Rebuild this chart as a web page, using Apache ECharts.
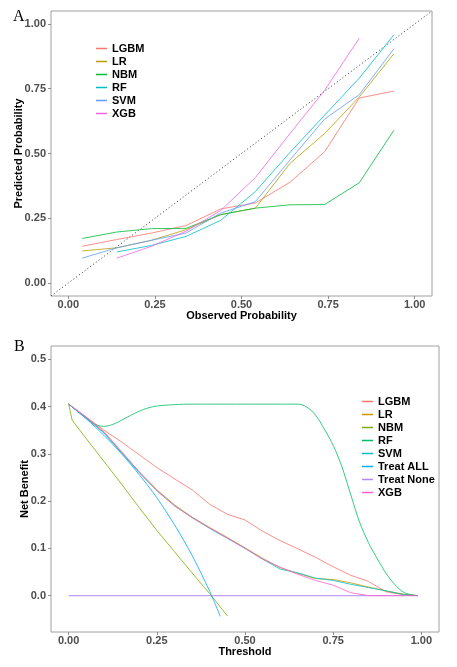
<!DOCTYPE html>
<html>
<head>
<meta charset="utf-8">
<script src="https://cdn.jsdelivr.net/npm/echarts@6.0.0/dist/echarts.min.js"></script>
<style>
  html, body { margin: 0; padding: 0; background: #fff; }
  #chartA { position: absolute; left: 0; top: 0; width: 457px; height: 330px; }
  #chartB { position: absolute; left: 0; top: 330px; width: 457px; height: 337px; }
</style>
</head>
<body>
<div id="chartA"></div>
<div id="chartB"></div>
<script>
// ---- panel A: calibration ----
const calX = [0.04, 0.14, 0.24, 0.34, 0.44, 0.54, 0.64, 0.74, 0.84, 0.94];
const calLGBM = [0.142, 0.168, 0.193, 0.222, 0.286, 0.309, 0.389, 0.507, 0.714, 0.741];
const calLR = [0.124, 0.136, 0.165, 0.206, 0.264, 0.289, 0.462, 0.577, 0.718, 0.885];
const calNBM = [0.172, 0.197, 0.21, 0.211, 0.264, 0.289, 0.302, 0.303, 0.387, 0.59];
const calRF = [null, 0.12, 0.145, 0.18, 0.242, 0.353, 0.504, 0.648, 0.791, 0.958];
const calSVM = [0.096, 0.136, 0.165, 0.193, 0.27, 0.314, 0.475, 0.633, 0.727, 0.904];
const calXGB = [null, 0.096, 0.142, 0.2, 0.28, 0.407, 0.577, 0.744, 0.945, null];
const diagX = [-0.05, 1.05];
const diagY = [-0.05, 1.05];
const ticksA = [0, 0.25, 0.5, 0.75, 1];

// ---- panel B: decision curves ----
const thr = [0, 0.05, 0.1, 0.15, 0.2, 0.25, 0.3, 0.35, 0.4, 0.45, 0.5,
  0.55, 0.6, 0.65, 0.7, 0.75, 0.8, 0.85, 0.9, 0.95, 0.99];
const nbLGBM = [0.405, 0.378, 0.35, 0.325, 0.298, 0.271, 0.247, 0.224, 0.193, 0.172, 0.16,
  0.136, 0.116, 0.099, 0.081, 0.061, 0.043, 0.03, 0.008, 0.002, 0];
const nbLR = [0.405, 0.376, 0.345, 0.303, 0.262, 0.224, 0.192, 0.166, 0.144, 0.123, 0.101,
  0.079, 0.059, 0.047, 0.036, 0.034, 0.027, 0.018, 0.01, 0.003, 0];
const nbSVM = [0.405, 0.376, 0.344, 0.302, 0.26, 0.222, 0.19, 0.165, 0.142, 0.121, 0.1,
  0.077, 0.056, 0.048, 0.037, 0.032, 0.024, 0.017, 0.01, 0.002, 0];
const nbXGB = [0.405, 0.377, 0.347, 0.305, 0.262, 0.222, 0.19, 0.165, 0.143, 0.122, 0.1,
  0.077, 0.06, 0.045, 0.032, 0.022, 0.006, 0, 0, 0, 0];
const nbmX = [0, 0.01, 0.05, 0.1, 0.15, 0.2, 0.25, 0.3, 0.35, 0.4, 0.45];
const nbNBM = [0.405, 0.371, 0.332, 0.284, 0.236, 0.186, 0.138, 0.093, 0.048, 0.004, -0.043];
const rfX = [0, 0.02, 0.05, 0.075, 0.1, 0.125, 0.15, 0.175, 0.2, 0.225, 0.25, 0.3, 0.35,
  0.4, 0.5, 0.6, 0.65, 0.675, 0.7, 0.725, 0.75, 0.775, 0.8, 0.825, 0.85, 0.875,
  0.9, 0.925, 0.95, 0.975, 0.99];
const nbRF = [0.405, 0.393, 0.375, 0.362, 0.358, 0.362, 0.371, 0.381, 0.39, 0.397, 0.401, 0.404, 0.405,
  0.405, 0.405, 0.405, 0.405, 0.399, 0.382, 0.352, 0.318, 0.272, 0.213, 0.155, 0.112, 0.078,
  0.047, 0.023, 0.007, 0.001, 0];
const allX = [0, 0.05, 0.1, 0.15, 0.2, 0.25, 0.3, 0.35, 0.4, 0.43];
const nbAll = [0.405, 0.374, 0.339, 0.3, 0.256, 0.207, 0.15, 0.085, 0.009, -0.044];
const noneX = [0, 0.99];
const nbNone = [0, 0];
const ticksBx = [0, 0.25, 0.5, 0.75, 1];
const ticksBy = [0, 0.1, 0.2, 0.3, 0.4, 0.5];

const FONT = 'Liberation Sans, Arial, sans-serif';
const pairs = (xs, ys) => xs.map((x, i) => [x, ys[i]]);

function axis(opt) {
  return {
    type: 'value',
    min: opt.min,
    max: opt.max,
    name: opt.name,
    nameLocation: 'middle',
    nameGap: opt.nameGap,
    nameMoveOverlap: false,
    nameTextStyle: { color: '#000', fontWeight: 'bold', fontSize: 11, fontFamily: FONT },
    axisLine: { show: false, onZero: false },
    splitLine: { show: false },
    axisTick: { show: true, length: 3, customValues: opt.ticks, lineStyle: { color: '#8c8c8c' } },
    axisLabel: {
      customValues: opt.ticks,
      formatter: v => v.toFixed(opt.digits),
      color: '#4d4d4d', fontWeight: 'bold', fontSize: 11, fontFamily: FONT,
      margin: opt.margin
    }
  };
}

function line(name, color, data, smooth, width) {
  return {
    name: name, type: 'line', data: data, showSymbol: false, symbol: 'none',
    smooth: smooth || false, connectNulls: false, z: 3,
    lineStyle: { color: color, width: width || 1, opacity: 0.8 }, itemStyle: { color: color },
    emphasis: { disabled: true }
  };
}

const legendStyle = {
  orient: 'vertical', icon: 'rect', itemWidth: 11, itemHeight: 1.5, itemGap: 0, padding: 0,
  textStyle: { fontSize: 11, fontWeight: 'bold', color: '#000', fontFamily: FONT, lineHeight: 13 }
};

const chartA = echarts.init(document.getElementById('chartA'));
chartA.setOption({
  animation: false,
  title: { text: 'A', left: 8, top: 4, textStyle: { fontFamily: 'Liberation Serif, serif', fontWeight: 'normal', fontSize: 16, color: '#000' } },
  grid: { left: 51, top: 11, width: 381, height: 285, show: true, borderColor: '#a0a0a0', borderWidth: 1 },
  xAxis: axis({ min: -0.05, max: 1.05, ticks: ticksA, digits: 2, margin: 3, name: 'Observed Probability', nameGap: 14 }),
  yAxis: axis({ min: -0.05, max: 1.05, ticks: ticksA, digits: 2, margin: 5, name: 'Predicted Probability', nameGap: 27 }),
  legend: Object.assign({ left: 96, top: 42, data: ['LGBM', 'LR', 'NBM', 'RF', 'SVM', 'XGB'] }, legendStyle),
  series: [
    { name: 'ideal', type: 'line', data: pairs(diagX, diagY), showSymbol: false, symbol: 'none',
      lineStyle: { color: '#333', width: 1, type: [1, 2.5] }, emphasis: { disabled: true } },
    line('LGBM', '#F8766D', pairs(calX, calLGBM)),
    line('LR', '#B79F00', pairs(calX, calLR)),
    line('NBM', '#00BA38', pairs(calX, calNBM)),
    line('RF', '#00BFC4', pairs(calX, calRF)),
    line('SVM', '#619CFF', pairs(calX, calSVM)),
    line('XGB', '#F564E3', pairs(calX, calXGB))
  ]
});

const chartB = echarts.init(document.getElementById('chartB'));
chartB.setOption({
  animation: false,
  title: { text: 'B', left: 9, top: 4, textStyle: { fontFamily: 'Liberation Serif, serif', fontWeight: 'normal', fontSize: 16, color: '#000' } },
  grid: { left: 51, top: 16, width: 388, height: 286, show: true, borderColor: '#a0a0a0', borderWidth: 1 },
  xAxis: axis({ min: -0.05, max: 1.05, ticks: ticksBx, digits: 2, margin: 3, name: 'Threshold', nameGap: 14 }),
  yAxis: axis({ min: -0.077, max: 0.528, ticks: ticksBy, digits: 1, margin: 5, name: 'Net Benefit', nameGap: 21 }),
  legend: Object.assign({ left: 362, top: 65, data: ['LGBM', 'LR', 'NBM', 'RF', 'SVM', 'Treat ALL', 'Treat None', 'XGB'] }, legendStyle),
  series: [
    line('Treat None', '#B388F0', pairs(noneX, nbNone), false, 1.3),
    line('LGBM', '#F8766D', pairs(thr, nbLGBM)),
    line('LR', '#CD9600', pairs(thr, nbLR)),
    line('NBM', '#7CAE00', pairs(nbmX, nbNBM)),
    line('RF', '#00BE67', pairs(rfX, nbRF), 0.3),
    line('SVM', '#00BFC4', pairs(thr, nbSVM)),
    line('Treat ALL', '#00A9FF', pairs(allX, nbAll), 0.3),
    line('XGB', '#FF61CC', pairs(thr, nbXGB))
  ]
});
</script>
</body>
</html>
